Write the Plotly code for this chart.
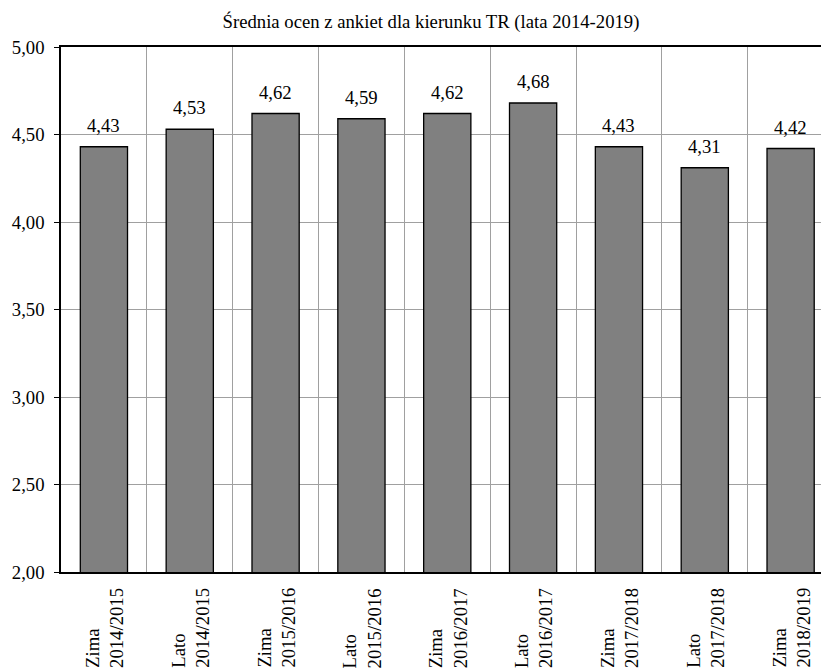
import plotly.graph_objects as go

categories = ["Zima<br>2014/2015", "Lato<br>2014/2015", "Zima<br>2015/2016", "Lato<br>2015/2016",
              "Zima<br>2016/2017", "Lato<br>2016/2017", "Zima<br>2017/2018", "Lato<br>2017/2018",
              "Zima<br>2018/2019"]
values = [4.43, 4.53, 4.62, 4.59, 4.62, 4.68, 4.43, 4.31, 4.42]
y_ticks = [2.0, 2.5, 3.0, 3.5, 4.0, 4.5, 5.0]
title_text = "Średnia ocen z ankiet dla kierunku TR (lata 2014-2019)"

FONT = "Times New Roman, Liberation Serif, serif"
FS = 18.7

fig = go.Figure()
fig.add_trace(go.Bar(
    x=list(range(len(categories))),
    y=values,
    width=0.55,
    marker=dict(color="#808080", line=dict(color="black", width=1.3)),
    hoverinfo="skip",
))

annotations = []
for i, (c, v) in enumerate(zip(categories, values)):
    annotations.append(dict(
        x=i, y=v, xref="x", yref="y", text=f"{v:.2f}".replace(".", ","),
        showarrow=False, yanchor="bottom", xanchor="center", yshift=9,
        font=dict(family=FONT, size=FS, color="black"),
    ))
    annotations.append(dict(
        x=i, y=0, xref="x", yref="paper", text=c, textangle=-90, align="left",
        showarrow=False, yanchor="top", xanchor="center", yshift=-14,
        font=dict(family=FONT, size=FS, color="black"),
    ))

fig.update_layout(
    width=821, height=672,
    margin=dict(l=61, r=0, t=46.5, b=100),
    paper_bgcolor="white", plot_bgcolor="white",
    separators=", ",
    showlegend=False,
    font=dict(family=FONT, size=FS, color="black"),
    title=dict(text=title_text, x=431/821, xanchor="center", xref="container",
               y=1 - 21/672, yanchor="middle", yref="container",
               font=dict(family=FONT, size=FS, color="black")),
    annotations=annotations,
    bargap=0.45,
)
fig.update_xaxes(
    type="linear", range=[-0.5, (821 - 60.8) / 85.86 - 0.5],
    tickvals=[i - 0.5 for i in range(len(categories) + 1)],
    showticklabels=False, ticks="",
    showgrid=True, gridcolor="#a0a0a0", gridwidth=1,
    showline=True, linecolor="black", linewidth=1.5, mirror=True,
    zeroline=False, fixedrange=True,
)
fig.update_yaxes(
    range=[2, 5], tickvals=y_ticks, tickformat=".2f",
    ticks="outside", ticklen=5, tickcolor="black", tickwidth=1,
    ticklabelstandoff=6,
    showgrid=True, gridcolor="#a0a0a0", gridwidth=1,
    showline=True, linecolor="black", linewidth=1.5,
    zeroline=False, fixedrange=True,
    tickfont=dict(family=FONT, size=FS, color="black"),
)

fig.write_html("out.html", config={"displayModeBar": False},
               post_script="document.body.style.margin='0';document.body.style.padding='0';")
